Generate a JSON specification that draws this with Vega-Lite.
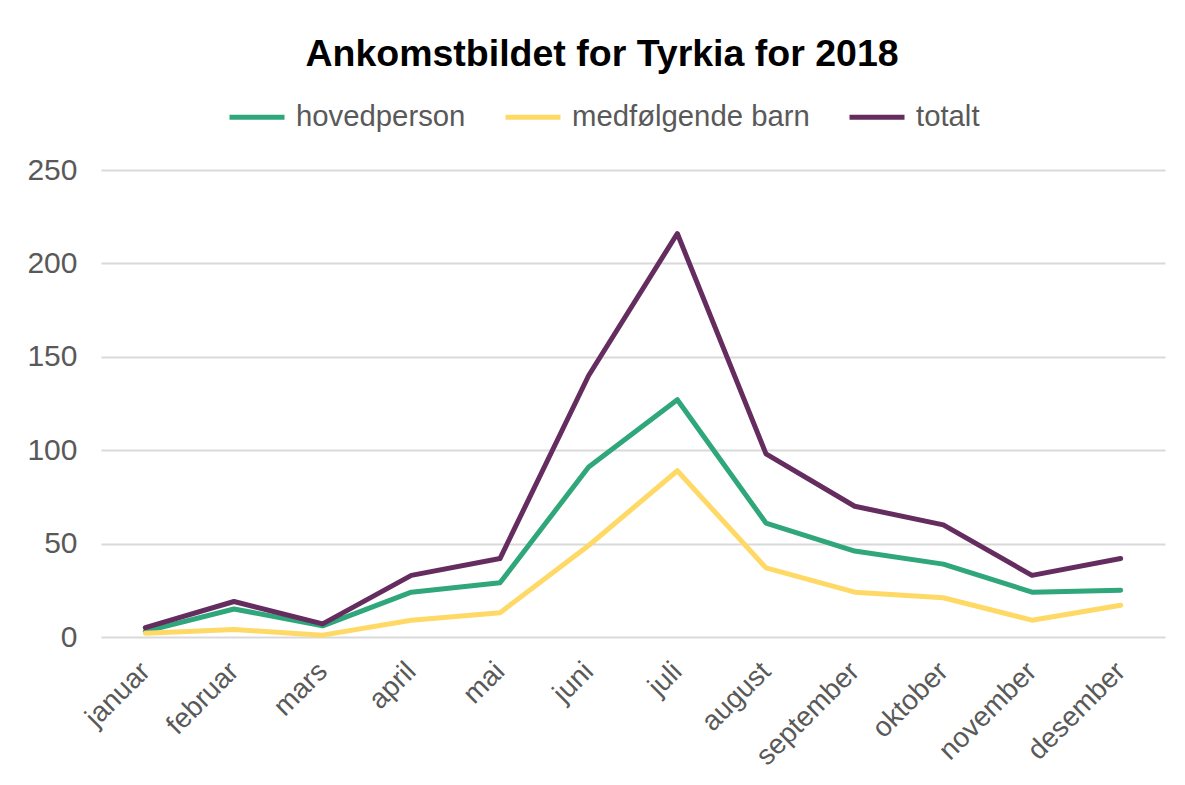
{
  "$schema": "https://vega.github.io/schema/vega-lite/v6.json",
  "width": 1064,
  "height": 467,
  "autosize": {"type": "none"},
  "padding": {"left": 101, "top": 170, "right": 20, "bottom": 148},
  "background": "white",
  "title": {
    "text": "Ankomstbildet for Tyrkia for 2018",
    "font": "Liberation Sans",
    "fontSize": 37.5,
    "fontWeight": "bold",
    "color": "#000000",
    "anchor": "middle",
    "dx": -31,
    "offset": 14
  },
  "config": {
    "view": {"stroke": null},
    "font": "Liberation Sans"
  },
  "data": {
    "values": [
      {"month": "januar", "series": "hovedperson", "value": 3},
      {"month": "februar", "series": "hovedperson", "value": 15},
      {"month": "mars", "series": "hovedperson", "value": 6},
      {"month": "april", "series": "hovedperson", "value": 24},
      {"month": "mai", "series": "hovedperson", "value": 29},
      {"month": "juni", "series": "hovedperson", "value": 91},
      {"month": "juli", "series": "hovedperson", "value": 127},
      {"month": "august", "series": "hovedperson", "value": 61},
      {"month": "september", "series": "hovedperson", "value": 46},
      {"month": "oktober", "series": "hovedperson", "value": 39},
      {"month": "november", "series": "hovedperson", "value": 24},
      {"month": "desember", "series": "hovedperson", "value": 25},
      {"month": "januar", "series": "medfølgende barn", "value": 2},
      {"month": "februar", "series": "medfølgende barn", "value": 4},
      {"month": "mars", "series": "medfølgende barn", "value": 1},
      {"month": "april", "series": "medfølgende barn", "value": 9},
      {"month": "mai", "series": "medfølgende barn", "value": 13},
      {"month": "juni", "series": "medfølgende barn", "value": 49},
      {"month": "juli", "series": "medfølgende barn", "value": 89},
      {"month": "august", "series": "medfølgende barn", "value": 37},
      {"month": "september", "series": "medfølgende barn", "value": 24},
      {"month": "oktober", "series": "medfølgende barn", "value": 21},
      {"month": "november", "series": "medfølgende barn", "value": 9},
      {"month": "desember", "series": "medfølgende barn", "value": 17},
      {"month": "januar", "series": "totalt", "value": 5},
      {"month": "februar", "series": "totalt", "value": 19},
      {"month": "mars", "series": "totalt", "value": 7},
      {"month": "april", "series": "totalt", "value": 33},
      {"month": "mai", "series": "totalt", "value": 42},
      {"month": "juni", "series": "totalt", "value": 140},
      {"month": "juli", "series": "totalt", "value": 216},
      {"month": "august", "series": "totalt", "value": 98},
      {"month": "september", "series": "totalt", "value": 70},
      {"month": "oktober", "series": "totalt", "value": 60},
      {"month": "november", "series": "totalt", "value": 33},
      {"month": "desember", "series": "totalt", "value": 42}
    ]
  },
  "mark": {"type": "line", "strokeWidth": 5, "strokeCap": "round", "strokeJoin": "round"},
  "encoding": {
    "x": {
      "field": "month",
      "type": "ordinal",
      "sort": ["januar", "februar", "mars", "april", "mai", "juni", "juli", "august", "september", "oktober", "november", "desember"],
      "scale": {"padding": 0.5},
      "axis": {
        "title": null,
        "domain": false,
        "ticks": false,
        "grid": false,
        "labelAngle": -45,
        "labelAlign": "right",
        "labelBaseline": "middle",
        "labelFont": "Liberation Sans",
        "labelFontSize": 28,
        "labelColor": "#595959",
        "labelPadding": 30
      }
    },
    "y": {
      "field": "value",
      "type": "quantitative",
      "scale": {"domain": [0, 250]},
      "axis": {
        "title": null,
        "values": [0, 50, 100, 150, 200, 250],
        "domain": false,
        "ticks": false,
        "grid": true,
        "gridColor": "#d9d9d9",
        "gridWidth": 2,
        "labelFont": "Liberation Sans",
        "labelFontSize": 30,
        "labelColor": "#595959",
        "labelPadding": 24
      }
    },
    "color": {
      "field": "series",
      "type": "nominal",
      "scale": {
        "domain": ["hovedperson", "medfølgende barn", "totalt"],
        "range": ["#2fa77a", "#ffd966", "#652d5f"]
      },
      "legend": {
        "title": null,
        "orient": "none",
        "direction": "horizontal",
        "legendX": 126,
        "legendY": -83,
        "symbolType": "stroke",
        "symbolSize": 3025,
        "symbolStrokeWidth": 5,
        "labelFont": "Liberation Sans",
        "labelFontSize": 29.3,
        "labelColor": "#595959",
        "labelOffset": 9,
        "columnPadding": 29,
        "labelLimit": 400
      }
    }
  }
}
